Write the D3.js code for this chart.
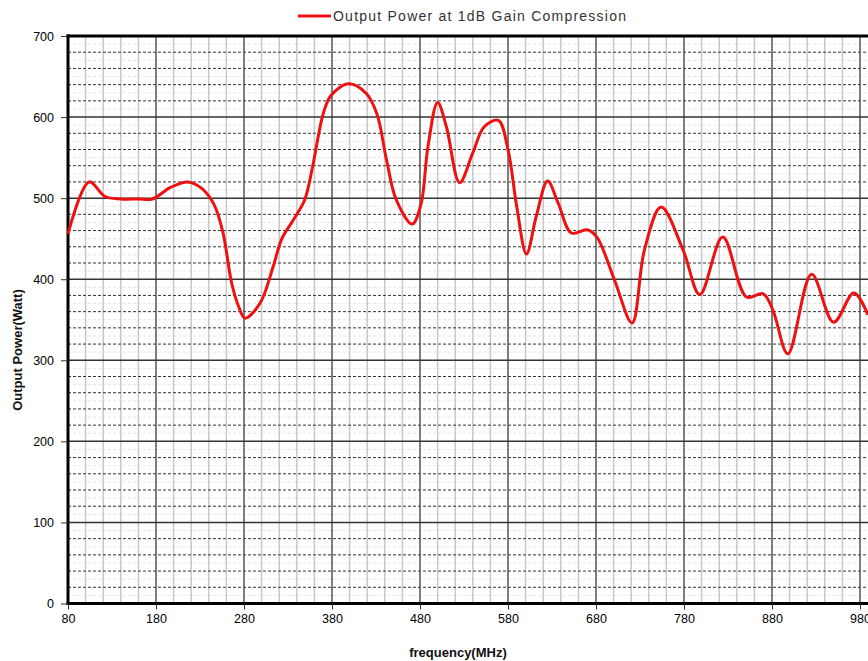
<!DOCTYPE html>
<html>
<head>
<meta charset="utf-8">
<script src="https://cdn.jsdelivr.net/npm/d3@7"></script>
<style>
  body { margin: 0; background: #fff; }
  svg { display: block; font-family: "Liberation Sans", Arial, sans-serif; }
</style>
</head>
<body>
<svg></svg>
<script>
// chart data
const seriesName = "Output Power at 1dB Gain Compression";
const freq = [80, 104, 122, 140, 160, 176, 196, 216, 232, 246, 256, 266, 274, 281, 298, 313, 323, 336,
  349, 358, 370, 379, 399, 419, 431, 442, 453, 471, 481, 489, 500, 510, 525, 540, 553, 569,
  580, 590, 601, 612, 625, 637, 652, 670, 681, 701, 721, 735, 754, 779, 798, 824, 851, 870, 881, 898,
  925, 950, 973, 989];
const power = [456, 520, 502, 499, 499, 499, 513, 520, 512, 492, 458, 395, 366, 352, 370, 415, 450, 473,
  498, 539, 604, 627, 641, 629, 604, 547, 498, 468, 492, 563, 618, 588, 519, 556, 588, 596,
  560, 489, 431, 477, 521, 494, 457, 461, 452, 399, 346, 436, 489, 436, 381, 452, 378, 382, 362, 308,
  406, 347, 383, 356];
const xTicks = [80, 180, 280, 380, 480, 580, 680, 780, 880, 980];
const yTicks = [0, 100, 200, 300, 400, 500, 600, 700];

const width = 868;
const height = 661;
const margin = { top: 36, left: 68, bottom: 57 };

const svg = d3.select("svg")
  .attr("width", width)
  .attr("height", height);

const x = d3.scaleLinear().domain([80, 1000]).range([margin.left, margin.left + 920 * 0.88]);
const y = d3.scaleLinear().domain([0, 700]).range([height - margin.bottom - 0.5, margin.top]);

const grid = svg.append("g");

// faint lines every 10
grid.selectAll(".faint")
  .data(d3.range(10, 700, 20))
  .enter().append("line")
  .attr("x1", x(80)).attr("x2", width)
  .attr("y1", d => y(d)).attr("y2", d => y(d))
  .attr("stroke", "#e6e6e6")
  .attr("stroke-dasharray", "3,2");

// vertical minor every 20
grid.selectAll(".vminor")
  .data(d3.range(100, 1000, 20).filter(d => (d - 80) % 100 !== 0))
  .enter().append("line")
  .attr("x1", d => x(d)).attr("x2", d => x(d))
  .attr("y1", y(0)).attr("y2", y(700))
  .attr("stroke", "#c8c8c8")
  .attr("stroke-width", 1.5);

// horizontal minor every 20, dashed
grid.selectAll(".hminor")
  .data(d3.range(20, 700, 20).filter(d => d % 100 !== 0))
  .enter().append("line")
  .attr("x1", x(80)).attr("x2", width)
  .attr("y1", d => y(d)).attr("y2", d => y(d))
  .attr("stroke", "#333")
  .attr("stroke-dasharray", "3,2");

// major grid
grid.selectAll(".vmajor")
  .data(xTicks.slice(1))
  .enter().append("line")
  .attr("x1", d => x(d)).attr("x2", d => x(d))
  .attr("y1", y(0)).attr("y2", y(700))
  .attr("stroke", "#555")
  .attr("stroke-width", 1.5);

grid.selectAll(".hmajor")
  .data(yTicks.slice(1, -1))
  .enter().append("line")
  .attr("x1", x(80)).attr("x2", width)
  .attr("y1", d => y(d)).attr("y2", d => y(d))
  .attr("stroke", "#333")
  .attr("stroke-width", 1.5);

// frame
svg.append("line")
  .attr("x1", x(80) - 1.5).attr("x2", width)
  .attr("y1", y(700)).attr("y2", y(700))
  .attr("stroke", "#000").attr("stroke-width", 3);

// axes
const xAxis = svg.append("g")
  .attr("transform", `translate(0, ${y(0)})`)
  .call(d3.axisBottom(x).tickValues(xTicks).tickSize(6).tickPadding(5));
xAxis.select(".domain").attr("stroke-width", 3).attr("d", `M${x(80) - 1.5},0H${width}`);

const yAxis = svg.append("g")
  .attr("transform", `translate(${x(80)}, 0)`)
  .call(d3.axisLeft(y).tickValues(yTicks).tickSize(7).tickPadding(7));
yAxis.select(".domain").attr("stroke-width", 3).attr("d", `M0,${y(0) + 1.5}V${y(700) - 1.5}`);

svg.selectAll(".tick text")
  .attr("font-size", 12.5)
  .attr("font-family", "Liberation Sans, Arial, sans-serif")
  .attr("fill", "#000");
svg.selectAll(".tick line").attr("stroke", "#333");

// series
const pts = freq.map((f, i) => [f, power[i]]);
const line = d3.line()
  .x(d => x(d[0]))
  .y(d => y(d[1]))
  .curve(d3.curveCatmullRom.alpha(0.5));

svg.append("path")
  .datum(pts)
  .attr("fill", "none")
  .attr("stroke", "#ee1111")
  .attr("stroke-width", 3)
  .attr("stroke-linejoin", "round")
  .attr("d", line);

// legend
svg.append("line")
  .attr("x1", 298).attr("x2", 331)
  .attr("y1", 16).attr("y2", 16)
  .attr("stroke", "#ee1111").attr("stroke-width", 3);
svg.append("text")
  .attr("x", 333).attr("y", 21)
  .attr("font-size", 14)
  .attr("fill", "#333")
  .attr("textLength", 293)
  .text(seriesName);

// axis titles
svg.append("text")
  .attr("x", 458).attr("y", 657)
  .attr("text-anchor", "middle")
  .attr("font-size", 13)
  .attr("font-weight", "bold")
  .attr("fill", "#111")
  .text("frequency(MHz)");

svg.append("text")
  .attr("transform", "translate(22, 350) rotate(-90)")
  .attr("text-anchor", "middle")
  .attr("font-size", 13)
  .attr("font-weight", "bold")
  .attr("fill", "#111")
  .text("Output Power(Watt)");
</script>
</body>
</html>
